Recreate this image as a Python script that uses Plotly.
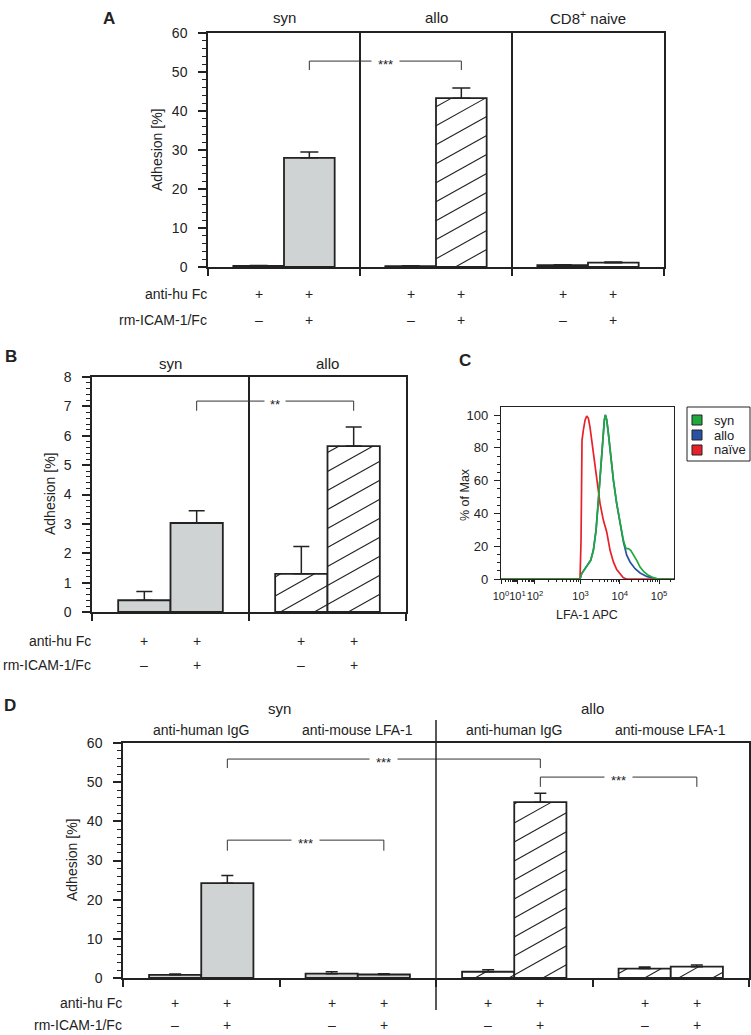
import math
import plotly.graph_objects as go

# ======================= DATA =======================
# Panel A  (bars: per section, rm-ICAM-1/Fc "–" then "+")
a_sections = ["syn", "allo", "CD8<sup>+</sup> naive"]
a_values = [0.3, 28.0, 0.2, 43.3, 0.5, 1.1]
a_errors = [0.1, 1.5, 0.1, 2.6, 0.1, 0.2]
a_anti_hu_fc = ["+", "+", "+", "+", "+", "+"]
a_rm_icam = ["–", "+", "–", "+", "–", "+"]
a_brackets = [(1, 3, 52.8, 50.5, "***")]      # bar i, bar j, top, leg end, label

# Panel B
b_sections = ["syn", "allo"]
b_values = [0.4, 3.03, 1.3, 5.65]
b_errors = [0.3, 0.42, 0.93, 0.65]
b_anti_hu_fc = ["+", "+", "+", "+"]
b_rm_icam = ["–", "+", "–", "+"]
b_brackets = [(1, 3, 7.18, 6.85, "**")]

# Panel C  (flow histogram, x = position on the LFA-1 APC display scale in decades)
c_tick_pos = [0.975, 1.395, 1.84, 3, 4, 5]
c_tick_text = ["10<sup>0</sup>", "10<sup>1</sup>", "10<sup>2</sup>",
               "10<sup>3</sup>", "10<sup>4</sup>", "10<sup>5</sup>"]
c_series = ["syn", "allo", "naïve"]
c_syn_pos = [0.975, 2.987, 3.030, 3.115, 3.200, 3.259, 3.327, 3.395, 3.454, 3.514,
             3.565, 3.607, 3.633, 3.667, 3.709, 3.769, 3.837, 3.921, 4.006, 4.091,
             4.159, 4.218, 4.278, 4.346, 4.431, 4.516, 4.618, 4.728, 4.855, 4.983, 5.38]
c_syn_pct = [0, 0, 3.3, 6.3, 9.4, 11.4, 17.5, 29.7, 48.0, 68.4,
             86.8, 97.0, 100, 97.0, 88.8, 74.5, 60.3, 46.0, 33.8, 23.6,
             18.5, 18.5, 17.5, 15.1, 11.4, 7.3, 4.3, 2.2, 0.8, 0, 0]
c_allo_pos = [0.975, 2.987, 3.030, 3.115, 3.200, 3.259, 3.327, 3.395, 3.454, 3.514,
              3.565, 3.607, 3.633, 3.667, 3.709, 3.769, 3.837, 3.921, 4.006, 4.091,
              4.176, 4.261, 4.389, 4.516, 4.686, 4.855, 4.983, 5.38]
c_allo_pct = [0, 0, 3.3, 6.3, 9.4, 11.4, 17.5, 29.7, 48.0, 68.4,
              86.8, 97.0, 100, 97.0, 88.8, 74.5, 60.3, 46.0, 33.8, 22.6,
              14.5, 10.4, 6.3, 3.7, 1.6, 0.4, 0, 0]
c_naive_pos = [0.975, 2.987, 3.013, 3.038, 3.072, 3.115, 3.157, 3.200, 3.242, 3.285,
               3.327, 3.412, 3.497, 3.582, 3.667, 3.752, 3.837, 3.921, 4.006, 4.091,
               4.176, 5.38]
c_naive_pct = [0, 0, 23.6, 84.7, 90.8, 96.9, 99.4, 98.0, 92.5, 84.7,
               76.6, 58.2, 46.0, 35.8, 28.7, 17.5, 10.4, 5.7, 2.9, 0.8,
               0, 0]

# Panel D
d_groups = ["syn", "allo"]
d_sections = ["anti-human IgG", "anti-mouse LFA-1", "anti-human IgG", "anti-mouse LFA-1"]
d_values = [0.8, 24.2, 1.1, 0.9, 1.6, 44.9, 2.4, 2.9]
d_errors = [0.2, 2.0, 0.5, 0.2, 0.5, 2.3, 0.4, 0.4]
d_anti_hu_fc = ["+", "+", "+", "+", "+", "+", "+", "+"]
d_rm_icam = ["–", "+", "–", "+", "–", "+", "–", "+"]
d_brackets = [(1, 5, 55.9, 53.6, "***"), (5, 7, 51.3, 48.8, "***"), (1, 3, 35.2, 32.5, "***")]

# ======================= STYLE / LAYOUT =======================
W, H = 751, 1035
BODY = 0                                   # page margin removed by the post script below
FONT = "Liberation Sans, Arial, Helvetica, sans-serif"
INK = "#222222"
GRAY_FILL = "#cfd3d3"
C_COLORS = {"syn": "#1fa83c", "allo": "#2a52a4", "naïve": "#e8202a"}
SLOPE = 0.56      # hatch slope (px/px)
SPACING = 19      # hatch vertical spacing (px)
BAR_W = 1 / 3

a_styles = ["gray", "hatch", "white"]
b_styles = ["gray", "hatch"]
d_styles = ["gray", "gray", "hatch", "hatch"]

# panel boxes in page pixels
GEOM = {
    "A": dict(l=208, r=664, t=33, b=267, xr=(0, 3), yr=(0, 60), xa="x", ya="y"),
    "B": dict(l=92, r=406, t=377, b=612, xr=(0, 2), yr=(0, 8), xa="x2", ya="y2"),
    "C": dict(l=501, r=674, t=407, b=579, xr=(0.975, 5.38), yr=(0, 104.9), xa="x3", ya="y3"),
    "D": dict(l=123, r=749, t=743, b=978, xr=(0, 4), yr=(0, 60), xa="x4", ya="y4"),
}


def fx(px):
    return (px - BODY) / W


def fy(py):
    return 1 - (py - BODY) / H


def to_px_x(g, v):
    return g["l"] + (v - g["xr"][0]) / (g["xr"][1] - g["xr"][0]) * (g["r"] - g["l"])


def to_px_y(g, v):
    return g["b"] - (v - g["yr"][0]) / (g["yr"][1] - g["yr"][0]) * (g["b"] - g["t"])


def from_px_x(g, px):
    return g["xr"][0] + (px - g["l"]) / (g["r"] - g["l"]) * (g["xr"][1] - g["xr"][0])


def from_px_y(g, py):
    return g["yr"][0] + (g["b"] - py) / (g["b"] - g["t"]) * (g["yr"][1] - g["yr"][0])


def bar_x(i):
    sec, c = divmod(i, 2)
    return sec + 0.5 + (c - 0.5) * BAR_W


fig = go.Figure()
shapes = []
annotations = []


def text(x, y, s, size=14, xref="paper", yref="paper", xanchor="center", yanchor="middle",
         bold=False, angle=0, **kw):
    annotations.append(dict(x=x, y=y, xref=xref, yref=yref, text=s, showarrow=False,
                            xanchor=xanchor, yanchor=yanchor, textangle=angle,
                            font=dict(family=FONT, size=size, color=INK,
                                      weight="bold" if bold else "normal"), **kw))


def bar_panel(key, values, errors, styles, cap, fc, icam, brackets, pad, row_y, row_size=14):
    g = GEOM[key]
    xs = [bar_x(i) for i in range(len(values))]
    colors = [GRAY_FILL if styles[i // 2] == "gray" else "white" for i in range(len(values))]
    fig.add_trace(go.Bar(
        x=xs, y=values, width=BAR_W, xaxis=g["xa"], yaxis=g["ya"],
        marker=dict(color=colors, line=dict(color=INK, width=1.8)),
        error_y=dict(type="data", array=errors, arrayminus=[0] * len(errors), symmetric=False,
                     color=INK, thickness=1.5, width=cap),
        showlegend=False, hoverinfo="skip"))
    hx, hy = [], []
    for i, v in enumerate(values):
        if styles[i // 2] != "hatch":
            continue
        x0 = to_px_x(g, xs[i] - BAR_W / 2)
        x1 = to_px_x(g, xs[i] + BAR_W / 2)
        Y0 = H - to_px_y(g, 0)
        Y1 = H - to_px_y(g, v)
        cmin = Y0 - SLOPE * x1
        cmax = Y1 - SLOPE * x0
        k = math.ceil(cmin / SPACING)
        while k * SPACING <= cmax:
            c = k * SPACING
            xs_ = max(x0, (Y0 - c) / SLOPE)
            xe_ = min(x1, (Y1 - c) / SLOPE)
            if xe_ > xs_:
                hx += [from_px_x(g, xs_), from_px_x(g, xe_), None]
                hy += [from_px_y(g, H - (SLOPE * xs_ + c)),
                       from_px_y(g, H - (SLOPE * xe_ + c)), None]
            k += 1
    if hx:
        fig.add_trace(go.Scatter(x=hx, y=hy, mode="lines", xaxis=g["xa"], yaxis=g["ya"],
                                 line=dict(color=INK, width=1.1), showlegend=False,
                                 hoverinfo="skip", cliponaxis=True))
    # significance brackets
    for (i, j, top, leg, lab) in brackets:
        xi, xj = xs[i], xs[j]
        shapes.append(dict(type="path", xref=g["xa"], yref=g["ya"],
                           path=f"M {xi},{leg} L {xi},{top} L {xj},{top} L {xj},{leg}",
                           line=dict(color="#333333", width=1)))
        text((xi + xj) / 2, top, lab, size=13, xref=g["xa"], yref=g["ya"],
             bgcolor="white", borderpad=pad, yshift=-3)
    # condition rows
    text(fx(g["l"] + 1), fy(row_y[0]), "anti-hu Fc", size=row_size, xanchor="right")
    text(fx(g["l"] + 1), fy(row_y[1]), "rm-ICAM-1/Fc", size=row_size, xanchor="right")
    for i in range(len(values)):
        text(xs[i], fy(row_y[0]), fc[i], xref=g["xa"])
        text(xs[i], fy(row_y[1]), icam[i], xref=g["xa"])


bar_panel("A", a_values, a_errors, a_styles, 9, a_anti_hu_fc, a_rm_icam, a_brackets, 6, (294, 320))
bar_panel("B", b_values, b_errors, b_styles, 8, b_anti_hu_fc, b_rm_icam, b_brackets, 5, (641, 665))
bar_panel("D", d_values, d_errors, d_styles, 6, d_anti_hu_fc, d_rm_icam, d_brackets, 6, (1003, 1025))

# section titles
for k, s in enumerate(a_sections):
    text(k + 0.5, fy(17), s, size=15, xref="x")
for k, s in enumerate(b_sections):
    text(k + 0.5, fy(363), s, size=15, xref="x2")
for k, s in enumerate(d_groups):
    text(2 * k + 1, fy(708), s, size=15, xref="x4")
for k, s in enumerate(d_sections):
    text(k + 0.5, fy(730), s, size=14, xref="x4")

# D: syn / allo divider
shapes.append(dict(type="line", xref="x4", yref="paper", x0=2, x1=2, y0=fy(1010), y1=fy(720),
                   line=dict(color=INK, width=1.5)))

# y titles
text(fx(157), fy(150), "Adhesion [%]", angle=-90)
text(fx(50), fy(494), "Adhesion [%]", angle=-90)
text(fx(72), fy(860), "Adhesion [%]", angle=-90)

# panel letters
text(fx(109), fy(18), "A", size=17, bold=True)
text(fx(11), fy(356), "B", size=17, bold=True)
text(fx(465), fy(360), "C", size=17, bold=True)
text(fx(10), fy(705), "D", size=17, bold=True)

# ---- Panel C ----
gC = GEOM["C"]
for name, xs_, ys_ in [("allo", c_allo_pos, c_allo_pct), ("naïve", c_naive_pos, c_naive_pct),
                       ("syn", c_syn_pos, c_syn_pct)]:
    fig.add_trace(go.Scatter(x=xs_, y=ys_, mode="lines", xaxis="x3", yaxis="y3",
                             line=dict(color=C_COLORS[name], width=1.7), showlegend=False,
                             hoverinfo="skip"))
text(fx(465), fy(495), "% of Max", size=12.5, angle=-90)
text(fx(587), fy(615), "LFA-1 APC", size=12.5)
# legend (manual)
shapes.append(dict(type="rect", xref="paper", yref="paper", x0=fx(687), x1=fx(750),
                   y0=fy(461), y1=fy(407), line=dict(color=INK, width=1)))
for k, name in enumerate(c_series):
    cy = 420 + 15 * k
    shapes.append(dict(type="rect", xref="paper", yref="paper", x0=fx(692), x1=fx(702),
                       y0=fy(cy + 5), y1=fy(cy - 5), fillcolor=C_COLORS[name],
                       line=dict(color=INK, width=1)))
    text(fx(712), fy(cy), name, size=13, xanchor="left")

minor_c = ([0.975 + (1.395 - 0.975) * math.log10(m) for m in range(2, 10)]
           + [1.395 + (1.84 - 1.395) * math.log10(m) for m in range(2, 10)]
           + [1.84 + (3 - 1.84) * math.log10(m) for m in range(2, 10)]
           + [3 + math.log10(m) for m in range(2, 10)]
           + [4 + math.log10(m) for m in range(2, 10)]
           + [5 + math.log10(2)])

tickfont = dict(family=FONT, size=14, color=INK)


def bar_xaxis(g, n, grid):
    return dict(domain=[fx(g["l"]), fx(g["r"])], range=list(g["xr"]), anchor=g["ya"],
                showline=True, mirror=True, linecolor=INK, linewidth=1.5,
                ticks="outside", ticklen=7, tickwidth=1.5, tickcolor=INK,
                tickmode="array", tickvals=list(range(n + 1)), showticklabels=False,
                showgrid=grid, gridcolor=INK, gridwidth=1.5, zeroline=False, fixedrange=True,
                automargin=False)


def bar_yaxis(g, dtick, mdtick):
    return dict(domain=[fy(g["b"]), fy(g["t"])], range=list(g["yr"]), anchor=g["xa"],
                showline=True, mirror=True, linecolor=INK, linewidth=1.5,
                ticks="outside", ticklen=8, tickwidth=1.5, tickcolor=INK,
                tick0=0, dtick=dtick, tickfont=tickfont, ticklabelstandoff=8,
                showgrid=False, zeroline=False, automargin=False,
                minor=dict(tick0=0, dtick=mdtick, ticks="outside", ticklen=4, tickwidth=1,
                           tickcolor=INK, showgrid=False),
                fixedrange=True)


fig.update_layout(
    template="none",
    width=W, height=H, autosize=False, margin=dict(l=0, r=0, t=0, b=0, pad=0, autoexpand=False),
    paper_bgcolor="white", plot_bgcolor="white", showlegend=False, barmode="overlay",
    font=dict(family=FONT, color=INK, size=14),
    modebar=dict(bgcolor="rgba(0,0,0,0)", color="rgba(0,0,0,0)", activecolor="rgba(0,0,0,0)"),
    xaxis=bar_xaxis(GEOM["A"], 3, True), yaxis=bar_yaxis(GEOM["A"], 10, 2),
    xaxis2=bar_xaxis(GEOM["B"], 2, True), yaxis2=bar_yaxis(GEOM["B"], 1, 0.2),
    xaxis4=bar_xaxis(GEOM["D"], 4, False), yaxis4=bar_yaxis(GEOM["D"], 10, 2),
    xaxis3=dict(domain=[fx(gC["l"]), fx(gC["r"])], range=list(gC["xr"]), anchor="y3",
                showline=True, mirror=True, linecolor=INK, linewidth=1.2,
                ticks="outside", ticklen=4, tickwidth=1, tickcolor=INK,
                tickmode="array", tickvals=c_tick_pos, ticktext=c_tick_text, tickangle=0,
                tickfont=dict(family=FONT, size=11, color=INK), ticklabelstandoff=3,
                showgrid=False, zeroline=False, fixedrange=True, automargin=False,
                minor=dict(tickmode="array", tickvals=minor_c, ticks="outside", ticklen=2,
                           tickwidth=1, tickcolor=INK)),
    yaxis3=dict(domain=[fy(gC["b"]), fy(gC["t"])], range=list(gC["yr"]), anchor="x3",
                showline=True, mirror=True, linecolor=INK, linewidth=1.2,
                ticks="outside", ticklen=6, tickwidth=1.2, tickcolor=INK,
                tickmode="array", tickvals=[0, 20, 40, 60, 80, 100],
                tickfont=dict(family=FONT, size=13, color=INK), ticklabelstandoff=3,
                showgrid=False, zeroline=False, fixedrange=True, automargin=False,
                minor=dict(tick0=0, dtick=5, ticks="outside", ticklen=3, tickwidth=1,
                           tickcolor=INK)),
    shapes=shapes, annotations=annotations,
)

fig.write_html("out.html", config={"displayModeBar": False},
               post_script="document.body.style.margin='0px';")
